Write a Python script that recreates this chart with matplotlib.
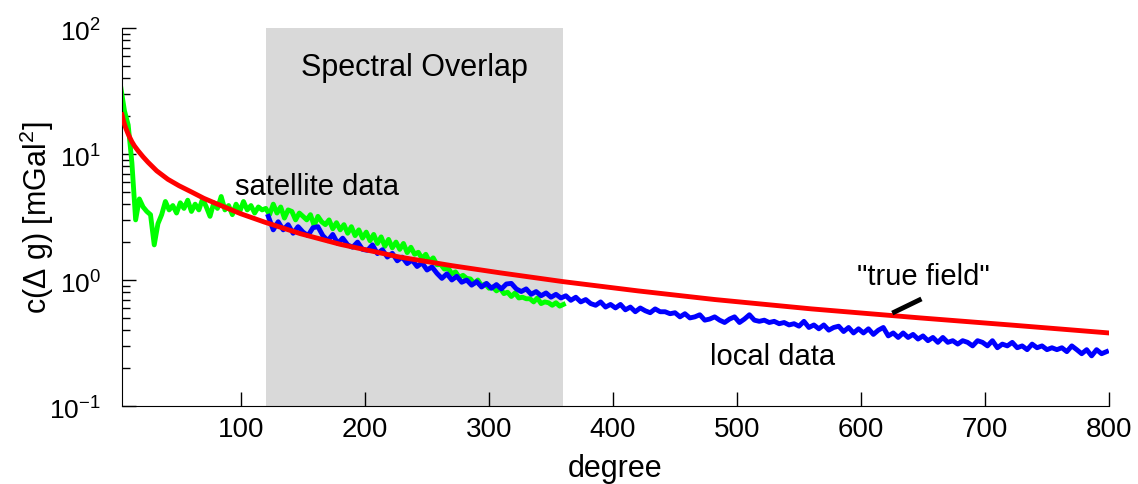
import numpy as np
import matplotlib.pyplot as plt

plt.rcParams['font.family'] = ['Liberation Sans', 'DejaVu Sans']
plt.rcParams['mathtext.fontset'] = 'custom'
plt.rcParams['mathtext.rm'] = 'Liberation Sans'

# satellite data (green), every 3 degrees from 3 to 360
sat_deg = np.arange(3, 361, 3)
sat_val = [34, 22, 17, 8.5, 3.0, 4.4, 3.8, 3.5, 3.3, 1.9,
           2.8, 3.3, 4.2, 3.6, 3.9, 3.4, 4.1, 3.7, 4.3, 3.5,
           4.0, 3.6, 4.4, 3.8, 3.2, 4.1, 3.7, 4.6, 3.6, 3.9,
           3.3, 4.0, 3.5, 4.2, 3.6, 3.9, 3.4, 3.8, 3.6, 3.7,
           3.3, 4.0, 3.4, 3.8, 3.1, 3.6, 3.5, 3.0, 3.4, 3.2,
           3.0, 3.3, 2.7, 3.2, 2.9, 2.75, 3.0, 2.55, 2.85, 2.5,
           2.75, 2.35, 2.65, 2.25, 2.5, 2.15, 2.4, 2.05, 2.3, 1.95,
           2.2, 1.85, 2.1, 1.8, 2.0, 1.75, 1.95, 1.65, 1.82, 1.6,
           1.66, 1.48, 1.6, 1.4, 1.5, 1.32, 1.33, 1.22, 1.25, 1.12,
           1.16, 1.05, 1.09, 1.03, 1.02, 0.94, 1.0, 0.9, 0.93, 0.86,
           0.88, 0.82, 0.86, 0.78, 0.8, 0.74, 0.79, 0.72, 0.73, 0.71,
           0.71, 0.67, 0.72, 0.65, 0.67, 0.66, 0.63, 0.66, 0.62, 0.64]

# local data (blue), every 4 degrees from 122 to 798
loc_deg = np.arange(122, 799, 4)
loc_val = [3.2, 2.5, 2.9, 2.5, 2.75, 2.35, 2.65, 2.4, 2.25, 2.6,
           2.65, 2.25, 2.05, 2.3, 1.95, 2.15, 1.9, 1.82, 2.0, 1.75,
           1.72, 1.9, 1.62, 1.74, 1.52, 1.63, 1.42, 1.52, 1.35, 1.44,
           1.28, 1.37, 1.2, 1.27, 1.13, 1.03, 1.12, 1.0, 1.07, 0.96,
           1.0, 0.91, 0.97, 0.88, 0.94, 0.86, 0.92, 0.85, 0.93, 0.94,
           0.85, 0.81, 0.85, 0.77, 0.81, 0.75, 0.79, 0.73, 0.77, 0.72,
           0.75, 0.69, 0.73, 0.67, 0.7, 0.65, 0.63, 0.67, 0.61, 0.64,
           0.6, 0.64, 0.58, 0.61, 0.56, 0.6, 0.57, 0.55, 0.59, 0.56,
           0.56, 0.54, 0.55, 0.51, 0.54, 0.5, 0.51, 0.53, 0.48, 0.49,
           0.51, 0.48, 0.46, 0.49, 0.51, 0.46, 0.49, 0.53, 0.48, 0.47,
           0.48, 0.46, 0.47, 0.45, 0.46, 0.44, 0.45, 0.43, 0.47, 0.42,
           0.44, 0.41, 0.44, 0.4, 0.42, 0.43, 0.39, 0.42, 0.38, 0.41,
           0.38, 0.41, 0.37, 0.4, 0.42, 0.36, 0.38, 0.35, 0.38, 0.35,
           0.37, 0.34, 0.36, 0.33, 0.35, 0.32, 0.35, 0.32, 0.33, 0.31,
           0.33, 0.32, 0.3, 0.33, 0.32, 0.3, 0.33, 0.29, 0.31, 0.3,
           0.32, 0.29, 0.3, 0.28, 0.31, 0.29, 0.3, 0.28, 0.29, 0.28,
           0.29, 0.27, 0.3, 0.28, 0.26, 0.28, 0.25, 0.28, 0.26, 0.27]

# "true field" (red)
true_deg = [4, 5, 6, 7, 8, 9, 10, 12, 14, 17, 21, 25, 32, 41, 50, 60, 70, 81, 100,
            119, 148, 180, 228, 270, 309, 360, 420, 482, 560, 648, 720, 800]
true_val = [20.5, 18.6, 17.2, 16.1, 15.2, 14.4, 13.7, 12.5, 11.6, 10.6, 9.5, 8.6,
            7.35, 6.3, 5.6, 5.0, 4.45, 4.0, 3.35, 2.88, 2.33, 1.92, 1.52, 1.30,
            1.14, 0.97, 0.82, 0.70, 0.59, 0.50, 0.44, 0.38]

overlap = (120, 360)

fig = plt.figure(figsize=(11.38, 4.85), dpi=100)
ax = fig.add_axes([0.1072, 0.1608, 0.8673, 0.7794])

ax.axvspan(overlap[0], overlap[1], color='#d9d9d9', lw=0, zorder=0)
ax.plot(sat_deg, sat_val, color=(0, 1, 0), lw=3.5, zorder=2)
ax.plot(loc_deg, loc_val, color=(0, 0, 1), lw=3.5, zorder=3)
ax.plot(true_deg, true_val, color=(1, 0, 0), lw=3.5, zorder=4)

ax.set_yscale('log')
ax.set_xlim(4, 800)
ax.set_ylim(0.1, 100)
ax.set_xticks([100, 200, 300, 400, 500, 600, 700, 800])
ax.set_yticks([0.1, 1, 10, 100])
ax.set_yticklabels(['10$^{-1}$', '10$^{0}$', '10$^{1}$', '10$^{2}$'])

for s in ['top', 'right']:
    ax.spines[s].set_visible(False)
ax.tick_params(which='major', direction='in', length=10, width=1)
ax.tick_params(which='minor', direction='in', length=6, width=1)
ax.tick_params(axis='x', which='minor', bottom=False)
ax.tick_params(axis='x', pad=7, labelsize=20)
ax.tick_params(axis='y', pad=15, labelsize=19)

ax.set_xlabel('degree', fontsize=22, labelpad=8)
ax.set_ylabel('c($\\Delta$ g) [mGal$^2$]', fontsize=22)
ax.yaxis.set_label_coords(-0.067, 0.5)

ax.text(240, 49, 'Spectral Overlap', fontsize=22, ha='center', va='center')
ax.text(95, 5.6, 'satellite data', fontsize=21, ha='left', va='center')
ax.text(478, 0.25, 'local data', fontsize=21, ha='left', va='center')
ax.text(650, 1.08, '"true field"', fontsize=21, ha='center', va='center')
ax.plot([627, 647], [0.557, 0.694], color='black', lw=3.5, zorder=5)

fig.savefig('out.png', dpi=100)
